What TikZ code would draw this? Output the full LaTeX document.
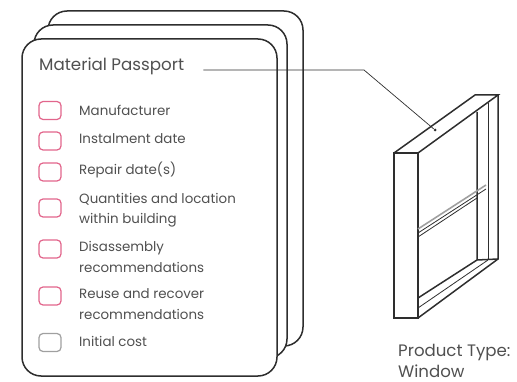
\documentclass[tikz,border=0pt]{standalone}
\usepackage{fontspec}
\setmainfont{Poppins}
\definecolor{myPink}{HTML}{e2668c}
\definecolor{myGrey}{HTML}{a0a0a0}
\definecolor{myText}{HTML}{505050}
\definecolor{myLine}{HTML}{2e2e2e}

\begin{document}
\begin{tikzpicture}[x=1pt, y=-1pt, myLine]

  \tikzstyle{S}=[rectangle,draw=myLine,fill=white,line width=1.5pt,rounded corners=19pt]
  \tikzstyle{C}=[rectangle,draw=myPink,line width=1.2pt,rounded corners=4pt,minimum width=22pt,minimum height=18pt,inner sep=0pt]
  \tikzstyle{G}=[C,draw=myGrey]
  \tikzstyle{T}=[anchor=west,align=left,inner sep=0pt,text=myText,font=\fontsize{13.4}{20.5}\selectfont]
  \tikzstyle{W}=[line width=1.5pt,line join=miter]

  \useasboundingbox (0,0) rectangle (517,382);

  % sheets
  \node[S,minimum width=255pt,minimum height=335pt] at (175.5,178.5) (sheetB) {};
  \node[S,minimum width=253pt,minimum height=333pt] at (160.5,191.5) (sheetM) {};
  \node[S,minimum width=255pt,minimum height=337pt] at (149.5,207.5) (sheetF) {};

  \node[T,font=\fontsize{16.7}{20}\selectfont] at (39,66) (passport) {Material Passport};

  \node[C] at (50,110.5) (boxA) {};
  \node[C] at (50,141) (boxB) {};
  \node[C] at (50,172) (boxC) {};
  \node[C] at (50,208) (boxD) {};
  \node[C] at (50,249) (boxE) {};
  \node[C] at (50,296) (boxF) {};
  \node[G] at (50,342.5) (boxG) {};

  \node[T] at (79,110.5) (manufacturer) {Manufacturer};
  \node[T] at (79,139) (instalment) {Instalment date};
  \node[T] at (79,170) (repair) {Repair date(s)};
  \node[T] at (79,210) (quantities) {Quantities and location\\within building};
  \node[T] at (79,257) (disassembly) {Disassembly\\recommendations};
  \node[T] at (79,304) (reuse) {Reuse and recover\\recommendations};
  \node[T] at (79,341) (cost) {Initial cost};

  % window
  \draw[W] (394,153) rectangle (418,318);
  \draw[W] (394,153) -- (475,95) -- (498,95) -- (418,153);
  \draw[W] (498,95) -- (498,259) -- (418,318);
  \draw[W] (477,112) -- (477,260) -- (498,259);
  \draw[line width=0.8pt] (488,103) -- (488,259);
  \draw[W] (418,298) -- (477,260);
  \draw[line width=0.8pt] (418,308) -- (488,260);
  \draw[line width=1.6pt,myGrey] (418,229) -- (486,185);
  \draw[line width=0.8pt] (418,233) -- (486,189);
  \draw[line width=0.8pt] (418,237) -- (477,198);

  \coordinate (bend) at (364,70);
  \node[circle,fill=myLine,minimum size=3pt,inner sep=0pt] at (435,130) (pin) {};
  \draw[line width=0.7pt] ([shift={(19,4)}]passport.east) -- (bend) -- (pin);

  \node[T,font=\fontsize{16.6}{21}\selectfont,anchor=west] at (398,360.5) (product) {Product Type:\\Window};

\end{tikzpicture}
\end{document}
